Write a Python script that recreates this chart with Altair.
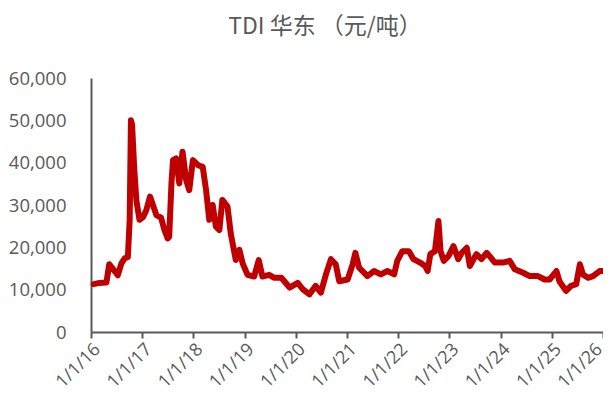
import altair as alt
import pandas as pd

dates = [
    "2016-01-20", "2016-03-01", "2016-04-20", "2016-05-10", "2016-05-25", "2016-07-10",
    "2016-08-05", "2016-08-28", "2016-09-20", "2016-10-03", "2016-10-12", "2016-10-20",
    "2016-11-05", "2016-11-20", "2016-12-12", "2017-01-08", "2017-01-30", "2017-02-25",
    "2017-03-18", "2017-04-12", "2017-05-15", "2017-06-08", "2017-07-01", "2017-07-12",
    "2017-07-28", "2017-08-08", "2017-08-30", "2017-09-22", "2017-10-15", "2017-11-10",
    "2017-12-02", "2017-12-28", "2018-02-03", "2018-03-08", "2018-04-01", "2018-04-24",
    "2018-05-18", "2018-06-10", "2018-07-05", "2018-07-26", "2018-09-01", "2018-09-24",
    "2018-10-30", "2018-11-25", "2018-12-18", "2019-01-22", "2019-03-10", "2019-04-12",
    "2019-05-08", "2019-06-25", "2019-08-01", "2019-09-20", "2019-11-18", "2020-01-15",
    "2020-02-20", "2020-04-08", "2020-05-22", "2020-06-28", "2020-08-03", "2020-09-08",
    "2020-10-12", "2020-11-06", "2021-01-05", "2021-02-10", "2021-03-01", "2021-03-28",
    "2021-05-26", "2021-07-12", "2021-08-30", "2021-10-16", "2021-12-03", "2021-12-25",
    "2022-01-30", "2022-03-18", "2022-04-20", "2022-06-06", "2022-07-12", "2022-07-30",
    "2022-08-18", "2022-09-20", "2022-10-15", "2022-10-30", "2022-11-22", "2022-12-25",
    "2023-01-30", "2023-03-05", "2023-03-30", "2023-05-05", "2023-05-27", "2023-07-13",
    "2023-08-18", "2023-09-24", "2023-10-15", "2023-11-21", "2024-01-18", "2024-03-06",
    "2024-04-12", "2024-06-10", "2024-07-27", "2024-09-24", "2024-11-10", "2024-12-16",
    "2025-02-03", "2025-02-24", "2025-04-12", "2025-05-18", "2025-06-24", "2025-07-20",
    "2025-08-11", "2025-09-16", "2025-10-22", "2025-12-08", "2025-12-31",
]
prices = [
    11300, 11600, 11700, 16000, 15400, 13400,
    16200, 17400, 17700, 26500, 50000, 49000,
    38300, 31000, 26500, 27200, 28800, 32000,
    30000, 27600, 27000, 24100, 22100, 22500,
    35100, 40600, 41000, 35100, 42600, 35900,
    33500, 40600, 39400, 39000, 33500, 26500,
    30000, 24900, 24100, 31200, 29600, 23300,
    17000, 19400, 16200, 13500, 13100, 17000,
    13100, 13500, 12800, 12800, 10500, 11600,
    10100, 8900, 10900, 9300, 13600, 17200,
    16000, 12000, 12400, 16000, 18700, 15200,
    13200, 14400, 13600, 14400, 13600, 16800,
    19100, 19100, 17200, 16400, 15600, 14400,
    18400, 19100, 26200, 19100, 16800, 17900,
    20300, 17200, 18700, 19900, 15600, 18400,
    17200, 18700, 17900, 16400, 16400, 16800,
    14800, 14000, 13200, 13200, 12400, 12400,
    14400, 12000, 9700, 10900, 11300, 16000,
    13600, 12800, 13200, 14400, 14400,
]
tick_years = list(range(2016, 2027))
y_ticks = [0, 10000, 20000, 30000, 40000, 50000, 60000]
title_text = "TDI 华东 （元/吨）"

df = pd.DataFrame({"date": dates, "price": prices})

axis_color = "#595959"
font = "Open Sans"

chart = (
    alt.Chart(df)
    .mark_line(color="#C00000", strokeWidth=6, strokeJoin="round", strokeCap="round")
    .encode(
        x=alt.X(
            "date:T",
            scale=alt.Scale(
                type="utc",
                domain=[
                    alt.DateTime(year=2016, month=1, date=1, utc=True),
                    alt.DateTime(year=2026, month=1, date=1, utc=True),
                ],
            ),
            axis=alt.Axis(
                title=None,
                values=[alt.DateTime(year=y, month=1, date=1, utc=True) for y in tick_years],
                format="%-m/%-d/%y",
                labelAngle=-45,
                labelFontSize=18,
                labelFont=font,
                labelColor=axis_color,
                labelPadding=2,
                labelOffset={"condition": {"test": "utcyear(datum.value) >= 2026", "value": -10}, "value": 0},
                tickSize=6,
                tickWidth=2,
                tickColor=axis_color,
                domainColor=axis_color,
                domainWidth=2,
                grid=False,
                labelOverlap=False,
                labelBound=False,
                labelFlush=False,
            ),
        ),
        y=alt.Y(
            "price:Q",
            scale=alt.Scale(domain=[0, 60000], nice=False),
            axis=alt.Axis(
                title=None,
                values=y_ticks,
                format=",.0f",
                labelFontSize=18.5,
                labelFont=font,
                labelColor=axis_color,
                labelPadding=25,
                ticks=False,
                domainColor=axis_color,
                domainWidth=2,
                grid=False,
            ),
        ),
    )
    .properties(
        width=512,
        height=254,
        autosize=alt.AutoSizeParams(type="none"),
        padding={"left": 83, "top": 70, "right": 0, "bottom": 62},
        title=alt.TitleParams(
            text=title_text,
            font="Noto Sans CJK SC",
            fontSize=23,
            fontWeight="normal",
            color=axis_color,
            anchor="middle",
            dx=-22,
            offset=30,
        ),
    )
    .configure_view(stroke=None)
)

chart.save("out.html", embed_options={"renderer": "svg", "actions": False})
